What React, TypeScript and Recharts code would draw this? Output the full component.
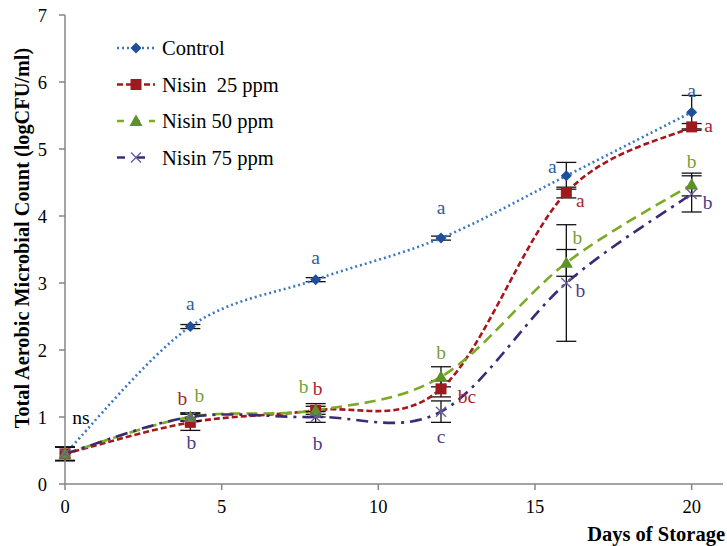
import React from 'react';
import { LineChart, Line, XAxis, YAxis, ErrorBar, Legend } from 'recharts';

const days = [0, 4, 8, 12, 16, 20];
const xTicks = [0, 5, 10, 15, 20];
const yTicks = [0, 1, 2, 3, 4, 5, 6, 7];

const control = [0.45, 2.35, 3.05, 3.67, 4.6, 5.55];
const nisin25 = [0.45, 0.92, 1.1, 1.42, 4.35, 5.33];
const nisin50 = [0.45, 1.0, 1.1, 1.6, 3.3, 4.47];
const nisin75 = [0.45, 1.0, 1.0, 1.08, 3.0, 4.33];

const controlErr = [0.1, 0.03, 0.03, 0.03, 0.2, 0.25];
const nisin25Err = [0.1, 0.12, 0.1, 0.12, 0.08, 0.05];
const nisin50Err = [0.1, 0.06, 0.06, 0.15, 0.2, 0.17];
const nisin75Err = [0.1, 0.06, 0.08, 0.16, 0.87, 0.27];

const controlLetters = ['ns', 'a', 'a', 'a', 'a', 'a'];
const nisin25Letters = ['', 'b', 'b', 'bc', 'a', 'a'];
const nisin50Letters = ['', 'b', 'b', 'b', 'b', 'b'];
const nisin75Letters = ['', 'b', 'b', 'c', 'b', 'b'];

// label offsets (px) relative to the marker
const controlLabelOff = [[16, -36], [0, -23], [0, -22], [0, -31], [-14, -9], [0, -22]];
const nisin25LabelOff = [[0, 0], [-8, -24], [2, -22], [26, 8], [14, 8], [17, -1]];
const nisin50LabelOff = [[0, 0], [9, -22], [-12, -24], [0, -24], [11, -25], [0, -23]];
const nisin75LabelOff = [[0, 0], [1, 25], [2, 26], [0, 25], [14, 7], [16, 9]];

const data = days.map((d, i) => ({
  day: d,
  control: control[i],
  controlErr: controlErr[i],
  nisin25: nisin25[i],
  nisin25Err: nisin25Err[i],
  nisin50: nisin50[i],
  nisin50Err: nisin50Err[i],
  nisin75: nisin75[i],
  nisin75Err: nisin75Err[i],
}));

function excelSmooth(context: any) {
  let pts: number[][] = [];
  return {
    areaStart() {},
    areaEnd() {},
    lineStart() {
      pts = [];
    },
    point(x: number, y: number) {
      pts.push([+x, +y]);
    },
    lineEnd() {
      const n = pts.length;
      if (!n) return;
      context.moveTo(pts[0][0], pts[0][1]);
      if (n === 1) return;
      const t = 1 / 6;
      for (let i = 0; i < n - 1; i++) {
        const p0 = pts[i - 1] || pts[i];
        const p1 = pts[i];
        const p2 = pts[i + 1];
        const p3 = pts[i + 2] || p2;
        context.bezierCurveTo(
          p1[0] + (p2[0] - p0[0]) * t,
          p1[1] + (p2[1] - p0[1]) * t,
          p2[0] - (p3[0] - p1[0]) * t,
          p2[1] - (p3[1] - p1[1]) * t,
          p2[0],
          p2[1]
        );
      }
    },
  };
}

const FONT = "'Liberation Serif', 'Times New Roman', serif";

type Marker = 'diamond' | 'square' | 'triangle' | 'x';

function MarkerShape({ kind, cx, cy, color }: { kind: Marker; cx: number; cy: number; color: string }) {
  if (kind === 'diamond') {
    const r = 5.5;
    return <polygon points={`${cx},${cy - r} ${cx + r},${cy} ${cx},${cy + r} ${cx - r},${cy}`} fill={color} />;
  }
  if (kind === 'square') {
    const r = 5.5;
    return <rect x={cx - r} y={cy - r} width={2 * r} height={2 * r} fill={color} />;
  }
  if (kind === 'triangle') {
    const r = 6.5;
    return <polygon points={`${cx},${cy - r} ${cx + r},${cy + r * 0.75} ${cx - r},${cy + r * 0.75}`} fill={color} />;
  }
  const r = 5;
  return (
    <g stroke={color} strokeWidth={1.4}>
      <line x1={cx - r} y1={cy - r} x2={cx + r} y2={cy + r} />
      <line x1={cx - r} y1={cy + r} x2={cx + r} y2={cy - r} />
    </g>
  );
}

const series = [
  {
    key: 'control', name: 'Control', lineColor: '#3B78C0', markerColor: '#1F4E9A', textColor: '#2F5C9E',
    dash: '2 3', marker: 'diamond' as Marker, letters: controlLetters, offs: controlLabelOff,
  },
  {
    key: 'nisin25', name: 'Nisin  25 ppm', lineColor: '#A8161B', markerColor: '#9E1A1E', textColor: '#A8262A',
    dash: '6 3', marker: 'square' as Marker, letters: nisin25Letters, offs: nisin25LabelOff,
  },
  {
    key: 'nisin50', name: 'Nisin 50 ppm', lineColor: '#7BAA24', markerColor: '#5E9129', textColor: '#7A9E3A',
    dash: '11 6', marker: 'triangle' as Marker, letters: nisin50Letters, offs: nisin50LabelOff,
  },
  {
    key: 'nisin75', name: 'Nisin 75 ppm', lineColor: '#3C2A76', markerColor: '#6B5C9E', textColor: '#4B3C8C',
    dash: '12 6 3 6', marker: 'x' as Marker, letters: nisin75Letters, offs: nisin75LabelOff,
  },
];

const textStyle = { fontFamily: FONT };

function LegendBox() {
  return (
    <svg width={220} height={150} style={{ display: 'block' }}>
      {series.map((s, i) => {
        const y = 18 + i * 36.5;
        return (
          <g key={s.key}>
            <line x1={7} y1={y} x2={45} y2={y} stroke={s.lineColor} strokeWidth={2.5} strokeDasharray={s.key === 'nisin50' ? '7 9' : s.key === 'nisin75' ? '8 12' : s.dash} />
            <MarkerShape kind={s.marker} cx={26} cy={y} color={s.markerColor} />
            <text x={52} y={y} dominantBaseline="central" style={{ ...textStyle, fontSize: 20.5, whiteSpace: 'pre' }} fill="#000">
              {s.name}
            </text>
          </g>
        );
      })}
    </svg>
  );
}

export default function App() {
  return (
    <div style={{ position: 'absolute', left: 0, top: 0, width: 727, height: 546, background: '#fff', fontFamily: FONT, overflow: 'hidden' }}>
      <LineChart width={727} height={546} data={data} margin={{ top: 15, right: 4, bottom: 0, left: 0 }} style={{ fontFamily: FONT }}>
        <XAxis
          dataKey="day"
          type="number"
          domain={[0, 21]}
          ticks={xTicks}
          tickLine={{ stroke: '#868686', strokeWidth: 1.5 }}
          axisLine={{ stroke: '#868686', strokeWidth: 1.5 }}
          tickSize={6}
          tickMargin={10}
          height={62}
          tick={{ fontSize: 18.5, fill: '#000', style: textStyle }}
        />
        <YAxis
          type="number"
          domain={[0, 7]}
          ticks={yTicks}
          width={65}
          tickLine={{ stroke: '#868686', strokeWidth: 1.5 }}
          axisLine={{ stroke: '#868686', strokeWidth: 1.5 }}
          tickSize={6}
          tickMargin={12}
          tick={{ fontSize: 18.5, fill: '#000', style: textStyle }}
        />
        <Legend
          layout="vertical"
          align="center"
          verticalAlign="middle"
          wrapperStyle={{ left: 110, top: 30, width: 220, height: 150 }}
          content={() => <LegendBox />}
        />
        {series.map((s) => (
          <Line
            key={s.key}
            dataKey={s.key}
            name={s.name}
            type={excelSmooth as any}
            stroke={s.lineColor}
            strokeWidth={2.6}
            strokeDasharray={s.dash}
            isAnimationActive={false}
            activeDot={false}
            dot={(p: any) => {
              const off = s.offs[p.index];
              const letter = s.letters[p.index];
              const isNs = letter === 'ns';
              return (
                <g key={`${s.key}-${p.index}`}>
                  <MarkerShape kind={s.marker} cx={p.cx} cy={p.cy} color={s.markerColor} />
                  {letter ? (
                    <text
                      x={p.cx + off[0]}
                      y={p.cy + off[1]}
                      textAnchor="middle"
                      dominantBaseline="central"
                      style={{ ...textStyle, fontSize: 19.5 }}
                      fill={isNs ? '#000' : s.textColor}
                    >
                      {letter}
                    </text>
                  ) : null}
                </g>
              );
            }}
          >
            <ErrorBar dataKey={`${s.key}Err`} direction="y" width={10} stroke="#111" strokeWidth={1.3} />
          </Line>
        ))}
      </LineChart>
      <div
        style={{
          position: 'absolute', left: 22, top: 238, transform: 'translate(-50%, -50%) rotate(-90deg)',
          whiteSpace: 'nowrap', fontWeight: 'bold', fontSize: 20.3, color: '#000', lineHeight: '22px',
        }}
      >
        Total Aerobic Microbial Count (logCFU/ml)
      </div>
      <div
        style={{
          position: 'absolute', right: 2, top: 524, whiteSpace: 'nowrap',
          fontWeight: 'bold', fontSize: 20.5, lineHeight: '20px', color: '#000',
        }}
      >
        Days of Storage
      </div>
    </div>
  );
}
